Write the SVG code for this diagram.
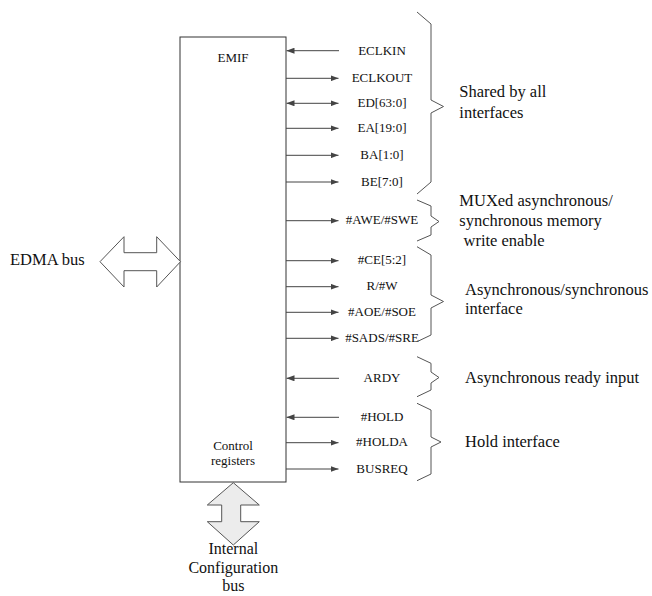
<svg xmlns="http://www.w3.org/2000/svg" width="652" height="596" viewBox="0 0 652 596">
<defs>
<marker id="ah" viewBox="0 0 8 6" refX="8" refY="3" markerWidth="8" markerHeight="6" markerUnits="userSpaceOnUse" orient="auto-start-reverse">
<path d="M0,0 L8,3 L0,6 z" fill="#444"/>
</marker>
<style>
text{font-family:"Liberation Serif","Times New Roman",serif;fill:#111}
.sig{font-size:13px;text-anchor:middle}
.lbl{font-size:16.5px}
.ln{stroke:#444;stroke-width:1;fill:none}
.out{marker-end:url(#ah)}
.in{marker-end:url(#ah)}
.both{marker-start:url(#ah);marker-end:url(#ah)}
.brace{stroke:#555;stroke-width:1;fill:none;stroke-linejoin:miter}
.bus{font-size:16px;text-anchor:middle}
</style>
</defs>
<rect width="652" height="596" fill="#fff"/>

<g id="emif">
<rect x="180" y="37" width="106" height="445" fill="#fff" stroke="#333" stroke-width="1"/>
<text class="sig" x="233" y="61.5">EMIF</text>
<text class="sig" x="233" y="449.5">Control</text>
<text class="sig" x="233" y="465">registers</text>
</g>

<g id="edma-bus">
<path d="M100,261.7 L124,236.7 L124,252.7 L156.7,252.7 L156.7,236.7 L180.5,261.7 L156.7,287 L156.7,270.7 L124,270.7 L124,287 z" fill="#fff" stroke="#555" stroke-width="1"/>
<text x="10" y="265" style="font-size:16.5px">EDMA bus</text>
</g>

<g id="internal-config-bus">
<path d="M233.3,482.7 L259.3,505 L240.7,505 L240.7,521.7 L259.3,521.7 L233.3,545 L207.3,521.7 L221.7,521.7 L221.7,505 L207.3,505 z" fill="#ececec" stroke="#555" stroke-width="1"/>
<text class="bus" x="233.3" y="554">Internal</text>
<text class="bus" x="233.3" y="572.5">Configuration</text>
<text class="bus" x="233.3" y="591">bus</text>
</g>

<g id="connectors">
<line class="ln in" x1="339" y1="50.7" x2="286.5" y2="50.7"/>
<line class="ln out" x1="286" y1="78.3" x2="338.5" y2="78.3"/>
<line class="ln both" x1="286.5" y1="103.3" x2="338.5" y2="103.3"/>
<line class="ln out" x1="286" y1="128.3" x2="338.5" y2="128.3"/>
<line class="ln out" x1="286" y1="155.3" x2="338.5" y2="155.3"/>
<line class="ln out" x1="286" y1="182" x2="338.5" y2="182"/>
<line class="ln out" x1="286" y1="220.7" x2="338.5" y2="220.7"/>
<line class="ln out" x1="286" y1="260.7" x2="338.5" y2="260.7"/>
<line class="ln out" x1="286" y1="286.7" x2="338.5" y2="286.7"/>
<line class="ln out" x1="286" y1="312.3" x2="338.5" y2="312.3"/>
<line class="ln out" x1="286" y1="338.3" x2="338.5" y2="338.3"/>
<line class="ln in" x1="339" y1="378.3" x2="286.5" y2="378.3"/>
<line class="ln in" x1="339" y1="417.3" x2="286.5" y2="417.3"/>
<line class="ln out" x1="286" y1="442.7" x2="338.5" y2="442.7"/>
<line class="ln out" x1="286" y1="469" x2="338.5" y2="469"/>
</g>

<g id="signals">
<text class="sig" x="382" y="54.5">ECLKIN</text>
<text class="sig" x="382" y="82">ECLKOUT</text>
<text class="sig" x="382" y="107">ED[63:0]</text>
<text class="sig" x="382" y="132">EA[19:0]</text>
<text class="sig" x="382" y="159">BA[1:0]</text>
<text class="sig" x="382" y="185.7">BE[7:0]</text>
<text class="sig" x="382" y="224.4">#AWE/#SWE</text>
<text class="sig" x="382" y="264.4">#CE[5:2]</text>
<text class="sig" x="382" y="290.4">R/#W</text>
<text class="sig" x="382" y="316">#AOE/#SOE</text>
<text class="sig" x="382" y="342">#SADS/#SRE</text>
<text class="sig" x="382" y="382">ARDY</text>
<text class="sig" x="382" y="421">#HOLD</text>
<text class="sig" x="382" y="446.4">#HOLDA</text>
<text class="sig" x="382" y="472.7">BUSREQ</text>
</g>

<g id="group-shared">
<path class="brace" d="M417,12 L431,24 L431,100 L443.5,106.5 L431,113 L431,182 L417,194"/>
<text class="lbl" x="459.3" y="97.3">Shared by all</text>
<text class="lbl" x="459.3" y="117.7">interfaces</text>
</g>

<g id="group-muxed">
<path class="brace" d="M417,200 L431,206 L431,216 L439,221.5 L431,227 L431,235 L417,241"/>
<text class="lbl" x="459.3" y="205.5">MUXed asynchronous/</text>
<text class="lbl" x="459.3" y="225.5">synchronous memory</text>
<text class="lbl" x="463.5" y="245.5">write enable</text>
</g>

<g id="group-async">
<path class="brace" d="M417,246.7 L431,255 L431,295 L443.5,301.5 L431,308 L431,335 L417,341.7"/>
<text class="lbl" x="465" y="295">Asynchronous/synchronous</text>
<text class="lbl" x="465" y="313.5">interface</text>
</g>

<g id="group-ardy">
<path class="brace" d="M417,356.7 L431,363.3 L431,372 L439,377.5 L431,383 L431,390 L417,396.7"/>
<text class="lbl" x="465" y="382.7">Asynchronous ready input</text>
</g>

<g id="group-hold">
<path class="brace" d="M417,403.3 L431,410 L431,437 L441,442 L431,447 L431,474 L417,480.7"/>
<text class="lbl" x="465" y="446.7">Hold interface</text>
</g>
</svg>
